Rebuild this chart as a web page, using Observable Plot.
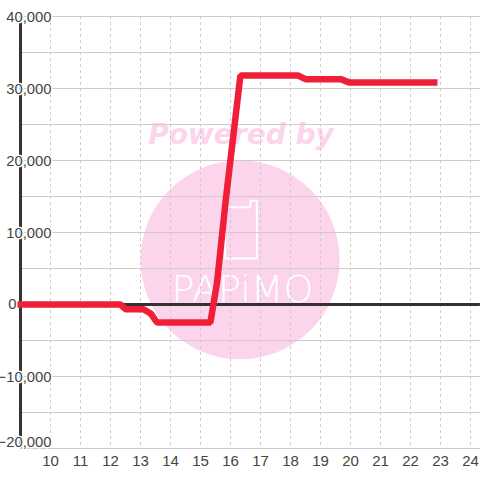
<!DOCTYPE html>
<html><head><meta charset="utf-8">
<style>html,body{margin:0;padding:0;background:#fff}svg{display:block}
[aria-label="brand"] text{letter-spacing:8px}
</style>
<script src="https://cdn.jsdelivr.net/npm/d3@7"></script>
<script src="https://cdn.jsdelivr.net/npm/@observablehq/plot@0.6"></script>
</head><body><script>
const hours=[8.9,12.33,12.5,13.1,13.35,13.55,15.33,15.55,15.85,16.33,18.25,18.5,19.67,19.95,22.9];
const values=[0,0,-650,-650,-1300,-2500,-2500,3000,14800,31800,31800,31300,31300,30850,30850];
const xTicks=[10,11,12,13,14,15,16,17,18,19,20,21,22,23,24];
const yLabels=[40000,30000,20000,10000,-10000];
const yZeroLabel=[0];
const yBottomLabel=[-20000];
const yGrid=[40000,35000,30000,25000,20000,15000,10000,5000,0,-5000,-10000,-15000,-20000];
const axisX=9, xEnd=24.33;
const phoneX=[15.98,16.66,16.66,16.88,16.88,15.82,15.82,15.98];
const phoneY=[13500,13500,14400,14400,6400,6400,13500,13500];
const phone=phoneX.map((x,i)=>({x,y:phoneY[i]}));
const fmt=d3.format(",");
const pink="#fcd5ec", ink="#444";
const labelStyle={x:axisX,y:d=>d,text:d=>fmt(d),textAnchor:"end",fontSize:14.8,fill:ink,stroke:"#fff",strokeWidth:3,paintOrder:"stroke"};
const chart=Plot.plot({
  width:480,height:480,margin:0,
  style:{background:"#fff",fontFamily:"'Liberation Sans',sans-serif"},
  x:{domain:[8.3167,24.3167],range:[-0.5,479.5],axis:null},
  y:{domain:[40000,-20000],range:[16,448],axis:null},
  marks:[
    Plot.dot([{x:16.32,y:6200}],{x:"x",y:"y",r:99.5,fill:pink,stroke:null}),
    Plot.text(["Powered by"],{x:16.35,y:23500,text:d=>d,fontFamily:"'DejaVu Sans'",fontWeight:"bold",fontStyle:"italic",fontSize:28,fill:pink}),
    Plot.line(phone,{x:"x",y:"y",stroke:"#fff",strokeWidth:2,strokeLinejoin:"round"}),
    Plot.text(["PAPiMO"],{x:16.4,y:2100,text:d=>d,ariaLabel:"brand",fontFamily:"'DejaVu Sans'",fontWeight:200,fontSize:38,fill:"#fff"}),
    Plot.ruleY(yGrid,{x1:axisX,x2:xEnd,stroke:"#ccc",strokeWidth:1.2}),
    Plot.ruleX(xTicks,{y1:40000,y2:-20000,stroke:"#ccc",strokeWidth:1,strokeDasharray:"3,3"}),
    Plot.ruleX([axisX],{y1:40000,y2:-20000,stroke:"#333",strokeWidth:3}),
    Plot.ruleY([0],{x1:axisX,x2:xEnd,stroke:"#333",strokeWidth:3}),
    Plot.text(yLabels,{...labelStyle,dx:31,dy:1}),
    Plot.text(yZeroLabel,{...labelStyle,dx:-4,dy:0}),
    Plot.text(yBottomLabel,{...labelStyle,dx:31,dy:-6}),
    Plot.line(hours.map((h,i)=>({h,v:values[i]})),{x:"h",y:"v",stroke:"#f01f38",strokeWidth:6.5,strokeLinejoin:"miter",strokeLinecap:"butt",curve:"linear"}),
    Plot.text(xTicks,{x:d=>d,y:-20000,text:d=>String(d),dy:13,fontSize:15,fill:ink})
  ]
});
document.body.append(chart);
</script></body></html>
